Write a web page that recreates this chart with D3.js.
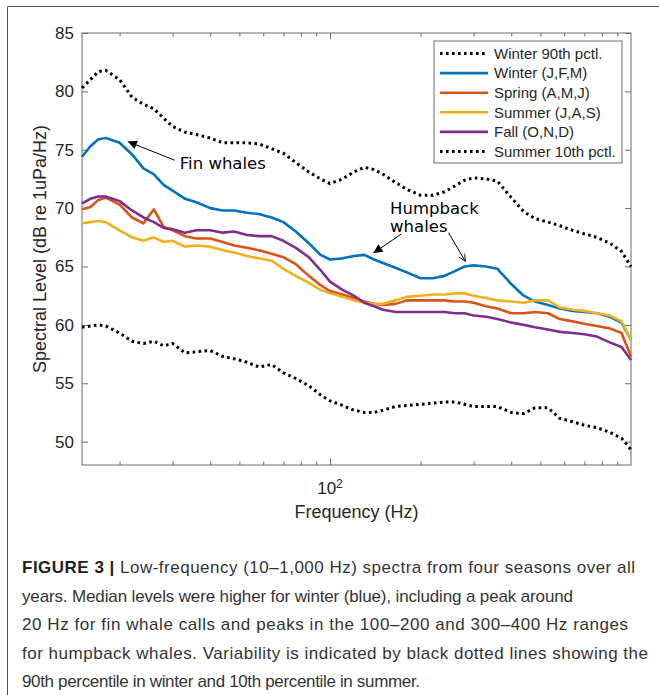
<!DOCTYPE html>
<html>
<head>
<meta charset="utf-8">
<script src="https://cdn.jsdelivr.net/npm/d3@7"></script>
<style>
  body { margin: 0; background: #fff; }
  text { font-family: "Liberation Sans", Arial, sans-serif; }
</style>
</head>
<body>
<div id="chart"></div>
<script>
// frequency grid (Hz)
const freqs = [15, 16, 17, 18, 20, 22, 24, 26, 28, 30, 33, 36, 40, 44, 48, 53, 58, 64, 70, 77, 85, 93,
  100, 110, 120, 130, 140, 150, 165, 180, 200, 220, 240, 260, 280, 300, 330, 360, 400, 440, 480,
  530, 580, 640, 700, 770, 850, 930, 1000];

const winter90 = [80.3, 81.0, 81.7, 81.8, 81.0, 79.5, 78.9, 78.5, 77.7, 77.0, 76.5, 76.3, 76.0, 75.6, 75.6, 75.6, 75.5, 75.1, 74.7, 73.9, 73.1, 72.5,
  72.1, 72.5, 73.1, 73.5, 73.3, 72.9, 72.2, 71.6, 71.1, 71.1, 71.4, 71.9, 72.4, 72.6, 72.5, 72.3, 70.9, 69.7, 69.1,
  68.8, 68.5, 68.1, 67.8, 67.5, 67.0, 66.3, 65.0];
const winter = [74.4, 75.3, 75.9, 76.0, 75.6, 74.6, 73.4, 72.9, 72.0, 71.5, 70.8, 70.5, 70.0, 69.8, 69.8, 69.6, 69.5, 69.2, 68.8, 68.0, 67.0, 66.0,
  65.6, 65.7, 65.9, 66.0, 65.6, 65.3, 64.9, 64.5, 64.0, 64.0, 64.2, 64.6, 65.0, 65.1, 65.0, 64.8, 63.5, 62.5, 62.0,
  61.7, 61.4, 61.2, 61.1, 61.0, 60.7, 60.2, 58.7];
const spring = [69.9, 70.1, 70.7, 70.9, 70.3, 69.2, 68.7, 69.9, 68.4, 68.1, 67.6, 67.4, 67.4, 67.1, 66.8, 66.6, 66.4, 66.1, 65.8, 65.2, 64.2, 63.4,
  62.9, 62.6, 62.3, 62.0, 61.8, 61.7, 61.8, 62.1, 62.1, 62.1, 62.1, 62.0, 62.0, 61.9, 61.6, 61.4, 61.0, 61.0, 61.1,
  61.0, 60.5, 60.3, 60.1, 59.9, 59.7, 59.3, 57.3];
const summer = [68.7, 68.8, 68.9, 68.8, 68.1, 67.5, 67.2, 67.5, 67.1, 67.2, 66.7, 66.8, 66.7, 66.4, 66.2, 65.9, 65.7, 65.5, 64.8, 64.2, 63.6, 63.0,
  62.7, 62.4, 62.1, 61.9, 61.8, 61.8, 62.1, 62.4, 62.5, 62.6, 62.6, 62.7, 62.7, 62.5, 62.3, 62.1, 62.0, 61.9, 62.1,
  62.1, 61.5, 61.3, 61.2, 61.0, 60.8, 60.3, 58.7];
const fall = [70.4, 70.8, 71.0, 71.0, 70.6, 69.8, 69.2, 68.8, 68.3, 68.2, 67.9, 68.1, 68.1, 67.9, 68.0, 67.7, 67.6, 67.6, 67.2, 66.6, 65.8, 64.7,
  63.7, 63.0, 62.5, 61.9, 61.6, 61.3, 61.1, 61.1, 61.1, 61.1, 61.1, 61.0, 61.0, 60.8, 60.7, 60.5, 60.2, 60.0, 59.8,
  59.6, 59.4, 59.3, 59.2, 59.0, 58.5, 58.1, 57.0];
const summer10 = [59.8, 59.9, 60.0, 59.9, 59.3, 58.6, 58.4, 58.6, 58.2, 58.4, 57.6, 57.7, 57.8, 57.3, 57.1, 56.8, 56.4, 56.6, 55.9, 55.4, 54.8, 54.0,
  53.5, 53.1, 52.7, 52.5, 52.5, 52.7, 53.0, 53.1, 53.2, 53.3, 53.4, 53.4, 53.2, 53.0, 53.0, 53.0, 52.5, 52.4, 52.9,
  52.9, 52.0, 51.7, 51.4, 51.2, 50.8, 50.3, 49.3];

const seriesNames = ["Winter 90th pctl.", "Winter (J,F,M)", "Spring (A,M,J)", "Summer (J,A,S)", "Fall (O,N,D)", "Summer 10th pctl."];
const seriesValues = [winter90, winter, spring, summer, fall, summer10];
const seriesColors = ["#000000", "#0072BD", "#D95319", "#EDB120", "#7E2F8E", "#000000"];
const seriesDotted = [true, false, false, false, false, true];

const yTicks = [50, 55, 60, 65, 70, 75, 80, 85];
const xMinorTicks = [20, 30, 40, 50, 60, 70, 80, 90, 200, 300, 400, 500, 600, 700, 800, 900];
const xMajorTicks = [100];

const captionLines = [
  "Low-frequency (10\u20131,000 Hz) spectra from four seasons over all",
  "years. Median levels were higher for winter (blue), including a peak around",
  "20 Hz for fin whale calls and peaks in the 100\u2013200 and 300\u2013400 Hz ranges",
  "for humpback whales. Variability is indicated by black dotted lines showing the",
  "90th percentile in winter and 10th percentile in summer."
];
// measured line widths in the printed figure
const captionWidths = [613, 551, 606, 626, 398];

const W = 659, H = 695;
const margin = { top: 33, left: 82, right: 28, bottom: 230 };
const width = W - margin.left - margin.right;
const height = H - margin.top - margin.bottom;

const svg = d3.select("#chart").append("svg")
  .attr("width", W)
  .attr("height", H);

// outer frame (runs off the right and bottom edge)
svg.append("path")
  .attr("d", `M7.5,${H + 2}V6.5H${W + 2}`)
  .attr("fill", "none")
  .attr("stroke", "#555")
  .attr("stroke-width", 1);

const g = svg.append("g").attr("transform", `translate(${margin.left},${margin.top})`);

const x = d3.scaleLog().domain([15, 1000]).range([0, width]);
const y = d3.scaleLinear().domain([48, 85]).range([height, 0]);

const axisColor = "#6b6b6b";

function styleAxis(sel) {
  sel.select(".domain").remove();
  sel.selectAll(".tick line").attr("stroke", axisColor);
  sel.selectAll(".tick text").attr("fill", "#262626").style("font-size", "17px");
}

// y ticks left and right (inward)
g.append("g")
  .call(d3.axisLeft(y).tickValues(yTicks).tickSize(-6).tickPadding(8))
  .call(styleAxis);
g.append("g")
  .attr("transform", `translate(${width},0)`)
  .call(d3.axisRight(y).tickValues(yTicks).tickSize(-6).tickFormat(""))
  .call(styleAxis);

// x ticks bottom and top (inward)
g.append("g")
  .attr("transform", `translate(0,${height})`)
  .call(d3.axisBottom(x).tickValues(xMinorTicks).tickSize(-3.5).tickFormat(""))
  .call(styleAxis);
g.append("g")
  .call(d3.axisTop(x).tickValues(xMinorTicks).tickSize(-3.5).tickFormat(""))
  .call(styleAxis);
g.append("g")
  .attr("transform", `translate(0,${height})`)
  .call(d3.axisBottom(x).tickValues(xMajorTicks).tickSize(-6).tickFormat(""))
  .call(styleAxis);
g.append("g")
  .call(d3.axisTop(x).tickValues(xMajorTicks).tickSize(-6).tickFormat(""))
  .call(styleAxis);

// 10^2 label
const xl = g.append("text")
  .attr("x", x(100))
  .attr("y", height + 29)
  .attr("text-anchor", "middle")
  .attr("fill", "#262626")
  .style("font-size", "17px");
xl.append("tspan").text("10");
xl.append("tspan").attr("dy", "-0.5em").style("font-size", "12px").text("2");

// box
g.append("rect")
  .attr("width", width)
  .attr("height", height)
  .attr("fill", "none")
  .attr("stroke", axisColor)
  .attr("stroke-width", 1);

// axis labels
g.append("text")
  .attr("x", width / 2)
  .attr("y", height + 53)
  .attr("text-anchor", "middle")
  .attr("fill", "#262626")
  .style("font-size", "18px")
  .text("Frequency (Hz)");

g.append("text")
  .attr("transform", `translate(${-42},${height / 2}) rotate(-90)`)
  .attr("text-anchor", "middle")
  .attr("dy", "0.35em")
  .attr("fill", "#262626")
  .style("font-size", "18px")
  .text("Spectral Level (dB re 1uPa/Hz)");

// lines
const line = d3.line()
  .x(d => x(d[0]))
  .y(d => y(d[1]));

const plot = g.append("g");
seriesValues.forEach((vals, i) => {
  plot.append("path")
    .datum(freqs.map((f, j) => [f, vals[j]]))
    .attr("d", line)
    .attr("fill", "none")
    .attr("stroke", seriesColors[i])
    .attr("stroke-width", seriesDotted[i] ? 3 : 2.6)
    .attr("stroke-dasharray", seriesDotted[i] ? "2.6,3.4" : null)
    .attr("stroke-linejoin", "round");
});

// annotations
const defs = svg.append("defs");
defs.append("marker")
  .attr("id", "headFill")
  .attr("viewBox", "0 -5 10 10")
  .attr("refX", 10)
  .attr("markerWidth", 13)
  .attr("markerHeight", 9)
  .attr("markerUnits", "userSpaceOnUse")
  .attr("orient", "auto")
  .append("path")
  .attr("d", "M0,-5L10,0L0,5Z")
  .attr("fill", "#000");
defs.append("marker")
  .attr("id", "headOpen")
  .attr("viewBox", "0 -5 10 10")
  .attr("refX", 10)
  .attr("markerWidth", 9)
  .attr("markerHeight", 7)
  .attr("markerUnits", "userSpaceOnUse")
  .attr("orient", "auto")
  .append("path")
  .attr("d", "M0,-5L10,0L0,5")
  .attr("fill", "none")
  .attr("stroke", "#000")
  .attr("stroke-width", 1.2);

// arrows: [tail freq, tail level, tip freq, tip level, head]
const arrows = [
  [30.5, 74.1, 21.3, 75.7, "headFill"],
  [173, 67.8, 139.4, 66.15, "headFill"],
  [247.6, 67.9, 281.5, 65.45, "headOpen"]
];
arrows.forEach(a => {
  g.append("line")
    .attr("x1", x(a[0])).attr("y1", y(a[1]))
    .attr("x2", x(a[2])).attr("y2", y(a[3]))
    .attr("stroke", "#000")
    .attr("stroke-width", 1)
    .attr("marker-end", `url(#${a[4]})`);
});

// notes: [freq, level, text]
const notes = [
  [31.7, 73.85, "Fin whales"],
  [158.4, 70.0, "Humpback"],
  [158.4, 68.42, "whales"]
];
notes.forEach(n => {
  g.append("text")
    .attr("x", x(n[0]))
    .attr("y", y(n[1]))
    .attr("dy", "0.35em")
    .attr("fill", "#000")
    .style("font-family", "'DejaVu Sans', sans-serif")
    .style("font-size", "16.5px")
    .text(n[2]);
});

// legend
const legend = g.append("g").attr("transform", `translate(${434 - margin.left},${41 - margin.top})`);
legend.append("rect")
  .attr("width", 188)
  .attr("height", 122)
  .attr("fill", "#fff")
  .attr("stroke", axisColor)
  .attr("stroke-width", 1);
seriesNames.forEach((name, i) => {
  const row = legend.append("g").attr("transform", `translate(0,${12.5 + i * 19.6})`);
  row.append("line")
    .attr("x1", 6).attr("x2", 54)
    .attr("stroke", seriesColors[i])
    .attr("stroke-width", seriesDotted[i] ? 3 : 2.6)
    .attr("stroke-dasharray", seriesDotted[i] ? "2.6,3.4" : null);
  row.append("text")
    .attr("x", 60)
    .attr("dy", "0.35em")
    .attr("fill", "#262626")
    .style("font-size", "15px")
    .text(name);
});

// caption
const cap = svg.append("g").attr("transform", "translate(22,0)");
captionLines.forEach((t, i) => {
  const tx = cap.append("text")
    .attr("y", 573 + i * 28.6)
    .attr("fill", "#333")
    .attr("textLength", captionWidths[i])
    .attr("lengthAdjust", "spacing")
    .style("font-size", "17px");
  if (i === 0) {
    tx.append("tspan").style("font-weight", "bold").attr("fill", "#222").text("FIGURE 3 | ");
  }
  tx.append("tspan").text(t);
});
</script>
</body>
</html>
